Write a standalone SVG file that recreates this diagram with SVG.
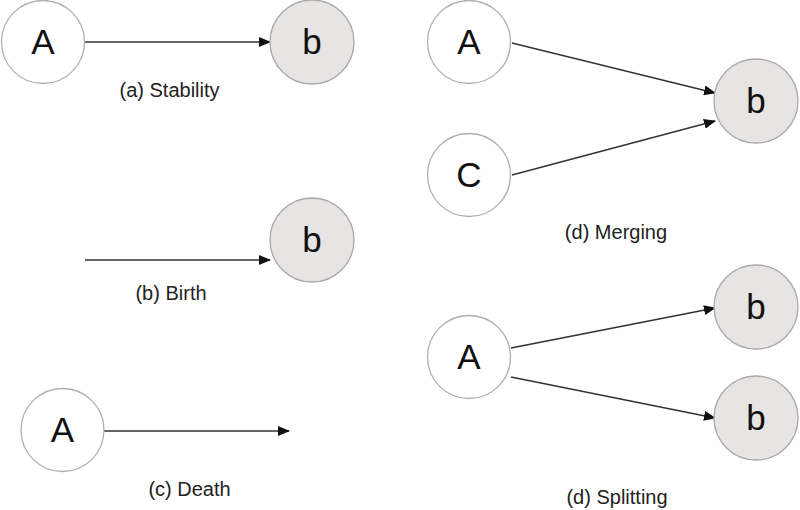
<svg xmlns="http://www.w3.org/2000/svg" width="800" height="510" viewBox="0 0 800 510">
<style>
.src{fill:#ffffff;stroke:#b0b0b0;stroke-width:1.3}
.dst{fill:#e8e4e4;stroke:#a8a8a8;stroke-width:1.3}
.nl{font-family:"Liberation Sans",Arial,sans-serif;font-size:35px;fill:#111;text-anchor:middle}
.cap{font-family:"Liberation Sans",Arial,sans-serif;font-size:20px;fill:#222;text-anchor:middle}
.edge{stroke:#333;stroke-width:1.4;fill:none;marker-end:url(#ah)}
</style>
<defs>
<marker id="ah" markerUnits="userSpaceOnUse" markerWidth="12" markerHeight="10" refX="11" refY="5" orient="auto">
<path d="M0,0 L12,5 L0,10 Z" fill="#111"/>
</marker>
</defs>
<rect width="800" height="510" fill="#ffffff"/>
<g id="connectors">
<line class="edge" x1="85" y1="42" x2="270" y2="42"/>
<line class="edge" x1="85" y1="260" x2="270" y2="260"/>
<line class="edge" x1="104" y1="431" x2="289" y2="431"/>
<line class="edge" x1="512" y1="43" x2="715" y2="93"/>
<line class="edge" x1="512" y1="175" x2="715" y2="121"/>
<line class="edge" x1="511" y1="348" x2="715" y2="308"/>
<line class="edge" x1="511" y1="377" x2="715" y2="418"/>
</g>
<g id="a-A"><circle class="src" cx="43" cy="42" r="41.5"/><text class="nl" x="43" y="54">A</text></g>
<g id="a-b"><circle class="dst" cx="312" cy="42" r="42"/><text class="nl" x="312" y="54">b</text></g>
<text class="cap" x="169.5" y="97">(a) Stability</text>
<g id="b-b"><circle class="dst" cx="312" cy="240" r="42"/><text class="nl" x="312" y="252">b</text></g>
<text class="cap" x="171" y="300">(b) Birth</text>
<g id="c-A"><circle class="src" cx="62.5" cy="430" r="41.5"/><text class="nl" x="62.5" y="442">A</text></g>
<text class="cap" x="189.5" y="496">(c) Death</text>
<g id="d-A"><circle class="src" cx="469" cy="42" r="41.5"/><text class="nl" x="469" y="54">A</text></g>
<g id="d-C"><circle class="src" cx="469" cy="175" r="41.5"/><text class="nl" x="469" y="187">C</text></g>
<g id="d-b"><circle class="dst" cx="756" cy="101" r="42"/><text class="nl" x="756" y="113">b</text></g>
<text class="cap" x="616" y="239">(d) Merging</text>
<g id="s-A"><circle class="src" cx="469" cy="357" r="41.5"/><text class="nl" x="469" y="369">A</text></g>
<g id="s-b1"><circle class="dst" cx="756" cy="307" r="42"/><text class="nl" x="756" y="319">b</text></g>
<g id="s-b2"><circle class="dst" cx="756" cy="418" r="42"/><text class="nl" x="756" y="430">b</text></g>
<text class="cap" x="617" y="504">(d) Splitting</text>
</svg>
